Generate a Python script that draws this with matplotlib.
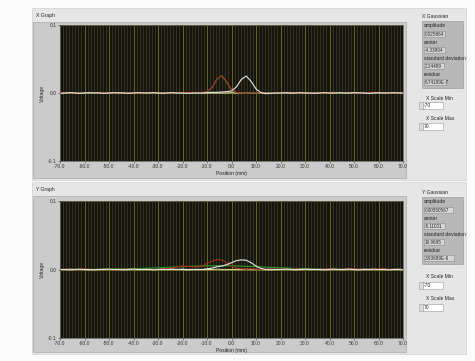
import numpy as np
import matplotlib
matplotlib.use("Agg")
import matplotlib.pyplot as plt
from matplotlib.patches import Rectangle
from matplotlib.ticker import MultipleLocator, FormatStrFormatter

plt.rcParams['font.family'] = ['Liberation Sans', 'DejaVu Sans']

W, H = 475, 361

# sample positions (mm)
positions = np.arange(-70, 71, 2)
fit_positions = np.arange(-70, 71, 5)

# X graph traces (volts)
x_red = [0.0005, 0.001, 0.0, -0.0005, 0.0005, 0.0, 0.001, 0.0, -0.0005, 0.0005,
         0.0005, 0.0, -0.0005, 0.0, 0.0005, 0.0, -0.0005, 0.0, 0.0005, 0.0,
         0.0005, 0.0, -0.0005, 0.0, 0.0005, 0.0005, 0.001, 0.0005, 0.0005, 0.0008,
         0.002, 0.008, 0.020, 0.026, 0.017, 0.005, 0.001, 0.0, -0.0005, 0.0,
         0.0005, 0.0, -0.0005, 0.0, 0.0005, 0.0, 0.0005, 0.001, 0.0005, 0.0,
         0.0, 0.0005, 0.0, -0.0005, 0.0, 0.0005, 0.001, 0.0005, 0.0, 0.0005,
         0.0, -0.0005, 0.0, 0.0005, 0.001, 0.0005, 0.0, 0.0005, 0.0, -0.0005, 0.0]
x_fit = [0.0] * 29 + [0.0001,
         0.0014, 0.0077, 0.0202, 0.0256, 0.0157, 0.0047, 0.0007, 0.0, 0.0, 0.0] + [0.0] * 31
x_white = [-0.0005, 0.0, 0.0005, 0.0, -0.0005, 0.0, 0.0005, 0.0, 0.0, -0.0005,
           0.0, 0.0005, 0.0, 0.0, -0.0005, 0.0, 0.0005, 0.0, 0.0, 0.0005,
           0.0, -0.0005, 0.0, 0.0005, 0.0, 0.0, -0.0005, 0.0, 0.0, 0.0,
           0.0005, 0.001, 0.001, 0.0015, 0.002, 0.003, 0.009, 0.020, 0.025, 0.017,
           0.006, 0.0005, -0.001, -0.0005, 0.0, 0.0, 0.0005, 0.0, 0.0, 0.0005,
           0.0, 0.0, -0.0005, 0.0, 0.0005, 0.0, 0.0, 0.0005, 0.0, 0.0,
           0.0005, 0.0, 0.0, -0.0005, 0.0, 0.0005, 0.0, 0.0, 0.0005, 0.0, 0.0]
x_pale = [0.0, 0.0005, 0.0, 0.0, -0.0005, 0.0, 0.0, 0.0005, 0.0, 0.0,
          0.0, 0.0, 0.0005, 0.0, 0.0, -0.0005, 0.0, 0.0, 0.0005, 0.0,
          0.0, 0.0, 0.0005, 0.0, 0.0, 0.0, 0.0005, 0.0, 0.0, 0.0,
          0.0, 0.0, 0.0, 0.0, 0.0, 0.0005, 0.0, 0.0, 0.0, 0.0,
          0.0, 0.0, 0.0005, 0.0, 0.0, 0.0, 0.0, -0.0005, 0.0, 0.0,
          0.0005, 0.0, 0.0, 0.0, 0.0, 0.0, 0.0005, 0.0, 0.0, 0.0,
          0.0, 0.0005, 0.0, 0.0, 0.0, 0.0, 0.0, 0.0005, 0.0, 0.0, 0.0]

# Y graph traces (volts)
y_red = [0.0, 0.0005, 0.0, -0.0005, 0.0, 0.0005, 0.0, 0.0, 0.0005, 0.0,
         0.0, -0.0005, 0.0, 0.0005, 0.0, 0.0, 0.0005, 0.0, 0.0, 0.0005,
         0.0, 0.0005, 0.001, 0.002, 0.004, 0.005, 0.0045, 0.004, 0.0035, 0.0045,
         0.009, 0.012, 0.0145, 0.014, 0.010, 0.005, 0.002, 0.001, 0.0005, 0.001,
         0.0005, 0.0, 0.0005, 0.001, 0.0005, 0.0, 0.0005, 0.0, 0.001, 0.0005,
         0.0, 0.0005, 0.0, 0.0, 0.0005, 0.001, 0.0005, 0.0, 0.0005, 0.0,
         0.001, 0.0005, 0.0, 0.0005, 0.0, 0.0005, 0.001, 0.0, 0.0005, 0.0, -0.0005]
y_fit = [0.0, 0.0001, 0.0001, 0.0002, 0.0004, 0.0008, 0.0012, 0.0018, 0.0025, 0.0034,
         0.0042, 0.0049, 0.0053, 0.0055, 0.0053, 0.0048, 0.0041, 0.0033, 0.0025, 0.0018,
         0.0012, 0.0007, 0.0004, 0.0002, 0.0001, 0.0001, 0.0, 0.0, 0.0]
y_white = [0.0, 0.0, -0.0005, 0.0, 0.0005, 0.0, 0.0, -0.0005, 0.0, 0.0,
           0.0005, 0.0, 0.0, -0.0005, 0.0, 0.0005, 0.0, 0.0, 0.0, -0.0005,
           0.0, 0.0, 0.0, 0.0005, 0.0, 0.0, -0.0005, 0.0, 0.0, 0.0,
           0.001, 0.002, 0.004, 0.005, 0.007, 0.010, 0.013, 0.014, 0.0135, 0.010,
           0.005, 0.0015, 0.0, -0.0005, 0.0, 0.0, 0.0005, 0.0, -0.0005, 0.0,
           0.0005, 0.0, 0.0, 0.0, -0.0005, 0.0, 0.0005, 0.0, 0.0, 0.0005,
           0.0, -0.0005, 0.0, 0.0, 0.0005, 0.0, 0.0, -0.0005, 0.0, 0.0, -0.0005]
y_pale = [0.0, 0.0, 0.0005, 0.0, 0.0, 0.0, -0.0005, 0.0, 0.0, 0.0005,
          0.0, 0.0, 0.0, 0.0005, 0.0, 0.0, 0.0, 0.0, 0.0005, 0.0,
          0.0, 0.0005, 0.0, 0.0, 0.0, 0.0005, 0.0, 0.0, 0.0, 0.0,
          0.0, 0.0, 0.0005, 0.0, 0.0, 0.0, 0.0, 0.0, 0.0005, 0.0,
          0.0, 0.0, 0.0, 0.0005, 0.0, 0.0, 0.0, 0.0005, 0.0, 0.0,
          0.0, 0.0005, 0.0, 0.0, 0.0, 0.0005, 0.0, 0.0, 0.0, 0.0005,
          0.0, 0.0, 0.0005, 0.0, 0.0, 0.0, 0.0005, 0.0, 0.0, 0.0005, 0.0]

x_gauss = [("amplitude", "0.025864"), ("center", "-4.33994"),
           ("standard deviation", "2.34489"), ("residue", "6.74189E-7")]
y_gauss = [("amplitude", "0.00550567"), ("center", "-5.11001"),
           ("standard deviation", "19.9695"), ("residue", "3.93689E-6")]
scale_min, scale_max = "-70", "70"

FS = 3.6
BG = "#14140c"
MINOR = "#3a3a2c"
MAJOR = "#6a6a1e"

fig = plt.figure(figsize=(W / 100, H / 100), dpi=100, facecolor="#fbfbfb")


def rect(x0, y0, x1, y1, fc, ec="none", lw=0.5):
    fig.add_artist(Rectangle((x0 / W, 1 - y1 / H), (x1 - x0) / W, (y1 - y0) / H,
                             transform=fig.transFigure, fc=fc, ec=ec, lw=lw, zorder=-1))


def label(x, y, s, size=FS):
    fig.text(x / W, 1 - y / H, s, fontsize=size, va="center", color="#222222")


def panel(top, title, plot_box, traces, gauss, gname, gbox, value_rows, scale_rows):
    # outer panel and graph frame
    rect(32, top, 466, top + 172, "#e6e6e6", "#cfcfcf")
    rect(33, top + 14, 406, top + 170, "#cbcbcb", "#a8a8a8")
    label(36, top + 8, title)

    x0, y0, x1, y1 = plot_box
    ax = fig.add_axes([x0 / W, 1 - y1 / H, (x1 - x0) / W, (y1 - y0) / H])
    ax.set_facecolor(BG)
    for xs, ys, c in traces:
        ax.plot(xs, ys, color=c, lw=0.8)
    ax.set_xlim(-70, 70)
    ax.set_ylim(-0.1, 0.1)
    ax.xaxis.set_major_locator(MultipleLocator(10))
    ax.xaxis.set_minor_locator(MultipleLocator(1.25))
    ax.xaxis.set_major_formatter(FormatStrFormatter("%.1f"))
    ax.set_yticks([-0.1, 0.0, 0.1])
    ax.yaxis.set_major_formatter(FormatStrFormatter("%.1f"))
    ax.grid(True, which="minor", axis="x", color=MINOR, lw=0.6)
    ax.grid(True, which="major", axis="x", color=MAJOR, lw=0.7)
    ax.grid(True, which="major", axis="y", color=MAJOR, lw=0.7)
    ax.set_axisbelow(True)
    ax.tick_params(labelsize=FS, length=1.5, width=0.4, pad=1, colors="#333333")
    ax.tick_params(which="minor", length=0)
    for s in ax.spines.values():
        s.set_color("#555555")
        s.set_linewidth(0.5)
    ax.set_xlabel("Position (mm)", fontsize=FS, labelpad=1, color="#222222")
    ax.set_ylabel("Voltage", fontsize=FS, labelpad=2, color="#222222")

    # gaussian fit readout
    gx0, gy0, gx1, gy1 = gbox
    label(gx0, gy0 - 5, gname)
    rect(gx0, gy0, gx1, gy1, "#b8b8b8", "#a0a0a0")
    for (name, val), (ly, by, bw) in zip(gauss, value_rows):
        label(gx0 + 2, ly, name)
        rect(gx0 + 2, by, gx0 + 2 + bw, by + 6, "#d6d6d6", "#8a8a8a", 0.4)
        label(gx0 + 3, by + 3, val, FS - 0.3)

    for (ly, by), txt, name in zip(scale_rows, [scale_min, scale_max],
                                   ["X Scale Min", "X Scale Max"]):
        label(426, ly, name)
        rect(419, by, 423, by + 7, "#dcdcdc", "#999999", 0.4)
        rect(423, by, 443, by + 7, "#ffffff", "#999999", 0.4)
        label(424, by + 3.5, txt)


panel(8, "X Graph", (60, 25, 403, 161),
      [(positions, x_pale, "#d8d09a"), (positions, x_fit, "#2e9a2e"),
       (positions, x_red, "#a82c1c"), (positions, x_white, "#e6e6e6")],
      x_gauss, "X Gaussian", (422, 21, 463, 88),
      [(26, 31, 21), (42, 47, 21), (59, 63, 20), (75, 79, 22)],
      [(98, 102), (119, 123)])

panel(182, "Y Graph", (60, 201, 403, 338),
      [(positions, y_pale, "#d8d09a"), (fit_positions, y_fit, "#2e9a2e"),
       (positions, y_red, "#a82c1c"), (positions, y_white, "#e6e6e6")],
      y_gauss, "Y Gaussian", (422, 197, 463, 264),
      [(202, 207, 29), (219, 223, 21), (234, 239, 20), (250, 255, 30)],
      [(277, 282), (299, 304)])

fig.savefig("out.png", dpi=100, facecolor=fig.get_facecolor())
